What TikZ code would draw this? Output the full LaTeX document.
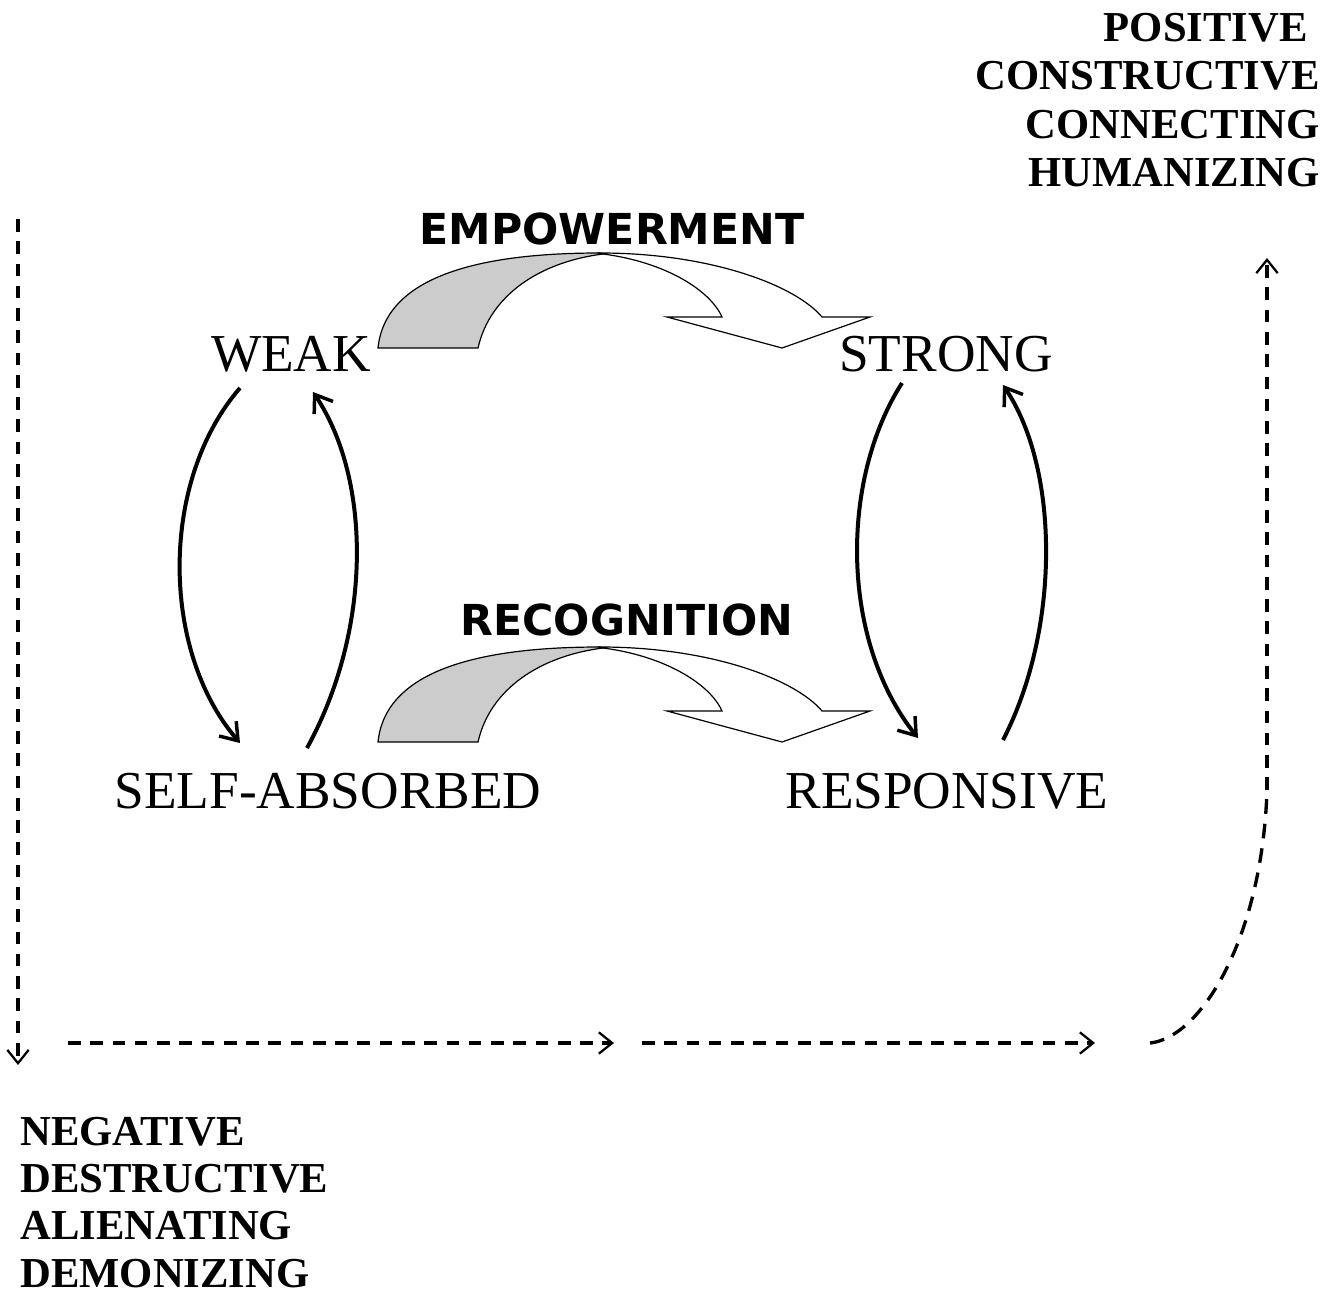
\documentclass[tikz,border=0pt]{standalone}
\usepackage{fontspec}
\setmainfont{Liberation Serif}
\newfontfamily\comicfont{DejaVu Sans}
\usetikzlibrary{arrows.meta,calc}

\definecolor{ribbongrey}{RGB}{204,204,204}

\tikzset{
  stagelbl/.style={anchor=base, inner sep=0pt, font=\fontsize{40}{48}\selectfont},
  processlbl/.style={anchor=center, inner sep=0pt, font=\comicfont\bfseries\fontsize{32}{38}\selectfont},
  polelbl/.style={inner sep=0pt, font=\fontsize{32}{36.2}\selectfont\bfseries},
  cyclearrow/.style={line width=3pt, -{Straight Barb[length=12pt,width=17pt,line width=2.6pt]}},
  trendline/.style={line width=2.5pt, dash pattern=on 9.5pt off 7.2pt},
  trendtip/.style={-{Straight Barb[length=10pt,width=16pt,line width=1.7pt]}},
}

\begin{document}
\begin{tikzpicture}[x=0.75pt,y=0.75pt,yscale=-1,xscale=1]
\useasboundingbox (0,0) rectangle (1338,1301);

%Shape: Curved Down Arrows [EMPOWERMENT, RECOGNITION]
\foreach \dy in {0,394}{
\begin{scope}[shift={(0,\dy)}]
\draw [line width=0.9pt, fill=ribbongrey] (378,348) -- (478,348) .. controls (490,295) and (540,262) .. (603,254) -- (600,253) .. controls (470,253) and (385,280) .. (378,348) -- cycle ;
\draw [line width=0.9pt, fill=white] (600,253) .. controls (710,253) and (795,285) .. (822,317) -- (870,317) -- (782,348) -- (667,317) -- (722,317) .. controls (710,290) and (665,262) .. (603,254) -- cycle ;
\end{scope}}

% Text Node
\node (weak) [stagelbl] at (291,372) {WEAK};
% Text Node
\node (strong) [stagelbl] at (946,372) {STRONG};
% Text Node
\node (self) [stagelbl] at (328,808) {SELF-ABSORBED};
% Text Node
\node (resp) [stagelbl] at (947,808) {RESPONSIVE};
% Text Node
\node (empow) [processlbl] at (612,229) {EMPOWERMENT};
% Text Node
\node (recog) [processlbl] at (627,620) {RECOGNITION};
% Text Node
\node (pos) [polelbl, anchor=north east, align=right] at (1320,13) {POSITIVE\hspace*{9pt}\\CONSTRUCTIVE\\CONNECTING\\HUMANIZING};
% Text Node
\node (neg) [polelbl, anchor=north west, align=left, font=\fontsize{32}{35.4}\selectfont\bfseries] at (20,1117) {NEGATIVE\\DESTRUCTIVE\\ALIENATING\\DEMONIZING};

%Curve Lines [left loop]
\draw [cyclearrow] ($(weak.base)+(-51,16)$) .. controls (160,480) and (160,650) .. ($(self.base)+(-88,-65)$) ;
\draw [cyclearrow] ($(self.base)+(-21,-60)$) .. controls (372,630) and (372,480) .. ($(weak.base)+(22,20)$) ;
%Curve Lines [right loop]
\draw [cyclearrow] ($(strong.base)+(-44,11)$) .. controls (840,480) and (840,640) .. ($(resp.base)+(-29,-70)$) ;
\draw [cyclearrow] ($(resp.base)+(56,-68)$) .. controls (1060,630) and (1060,470) .. ($(strong.base)+(57,13)$) ;

%Dashed Lines [trend]
\coordinate (ltop) at (18,219) ;
\coordinate (lbot) at (18,1065) ;
\coordinate (b1s) at (68,1043) ;
\coordinate (b1e) at (614,1043) ;
\coordinate (b2s) at (642,1043) ;
\coordinate (b2e) at (1095,1043) ;
\coordinate (cs) at (1150,1043) ;
\coordinate (rbend) at (1267,790) ;
\coordinate (rtop) at (1267,258) ;
\draw [trendline, trendtip] (ltop) -- (lbot) ;
\draw [trendline, trendtip] (b1s) -- (b1e) ;
\draw [trendline, trendtip] (b2s) -- (b2e) ;
\draw [trendline, dash pattern=on 11pt off 7.5pt] (cs) .. controls (1200,1038) and (1262,940) .. (rbend) ;
\draw [trendline, trendtip] (rbend) -- (rtop) ;

\end{tikzpicture}
\end{document}
